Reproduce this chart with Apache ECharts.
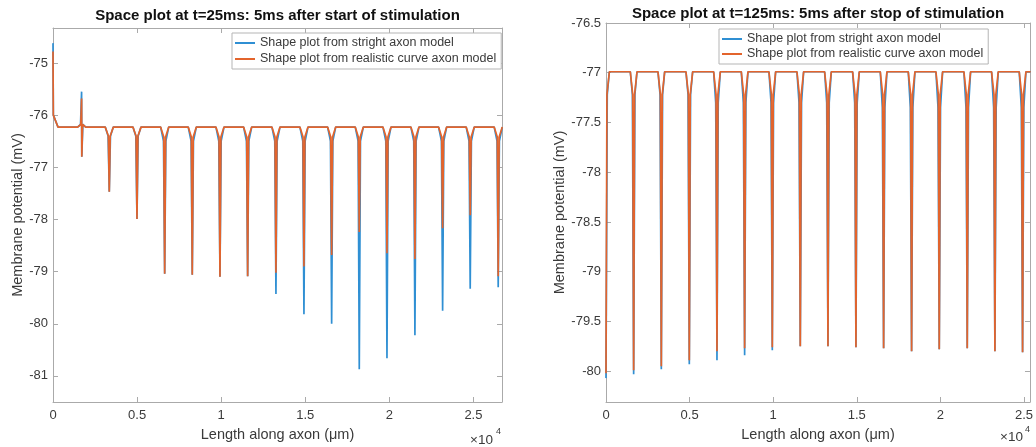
<!DOCTYPE html>
<html>
<head>
<meta charset="utf-8">
<script src="https://cdn.jsdelivr.net/npm/echarts@6/dist/echarts.min.js"></script>
<style>
  html, body { margin: 0; padding: 0; background: #fff; }
  #chart { width: 1036px; height: 447px; }
</style>
</head>
<body>
<div id="chart"></div>
<script>
// ---------- data ----------
const seriesNames = ['Shape plot from stright axon model', 'Shape plot from realistic curve axon model'];
const titles = ['Space plot at t=25ms: 5ms after start of stimulation', 'Space plot at t=125ms: 5ms after stop of stimulation'];
const xTicks = [0, 5000, 10000, 15000, 20000, 25000];
const leftYTicks = [-81, -80, -79, -78, -77, -76, -75];
const rightYTicks = [-80, -79.5, -79, -78.5, -78, -77.5, -77, -76.5];

// left panel (t = 25 ms)
const leftNodeX = [1706, 3347, 4994, 6641, 8282, 9929, 11575, 13258, 14923, 16570, 18213, 19860, 21522, 23169, 24810, 26475];
const leftMinBlue   = [-76.80, -77.47, -77.99, -79.04, -79.06, -79.10, -79.09, -79.43, -79.82, -80.00, -80.87, -80.66, -80.22, -79.75, -79.33, -79.30];
const leftMinOrange = [-76.80, -77.47, -77.99, -79.04, -79.06, -79.10, -79.09, -79.02, -78.90, -78.68, -78.24, -78.65, -78.76, -78.17, -77.92, -79.09];
const leftShoulderBlue   = [-76.18, -76.40, -76.40, -76.50, -76.50, -76.50, -76.50, -76.50, -76.50, -76.50, -76.50, -76.50, -76.50, -76.50, -76.50, -76.50];
const leftShoulderOrange = [-76.18, -76.40, -76.40, -76.42, -76.42, -76.42, -76.42, -76.42, -76.42, -76.42, -76.42, -76.42, -76.42, -76.42, -76.42, -76.42];
const leftPeakBlue = [-75.55];   // up-spike at first node
const leftPeakOrange = [-75.68];
const leftStart = { blue: [-74.62, -76.00], orange: [-74.78, -76.00] };
const leftBase = -76.23;

// right panel (t = 125 ms)
const rightNodeX = [0, 1654, 3309, 4983, 6638, 8292, 9947, 11621, 13276, 14950, 16605, 18279, 19934, 21608, 23262, 24917];
const rightMinBlue   = [-80.07, -80.03, -79.98, -79.93, -79.89, -79.84, -79.79, -79.75, -79.75, -79.76, -79.77, -79.80, -79.78, -79.77, -79.80, -79.81];
const rightMinOrange = [-80.02, -79.99, -79.95, -79.89, -79.80, -79.77, -79.76, -79.75, -79.75, -79.76, -79.77, -79.80, -79.78, -79.77, -79.80, -79.81];
const rightShoulderBlue   = [-77.22, -77.22, -77.22, -77.22, -77.30, -77.30, -77.30, -77.30, -77.30, -77.30, -77.35, -77.35, -77.35, -77.35, -77.35, -77.35];
const rightShoulderOrange = [-77.22, -77.22, -77.22, -77.22, -77.22, -77.22, -77.22, -77.22, -77.22, -77.22, -77.22, -77.22, -77.22, -77.22, -77.22, -77.22];
const rightBase = -76.99;
const rightEndX = 25400;

// node profile (µm from node centre): [edge of plateau, shoulder]
const leftProfile = { blue: [240, 70], orange: [240, 55] };
const rightProfile = { blue: [200, 75], orange: [200, 55] };

// ---------- build polylines ----------
function buildLeft(which) {
  const mins = which === 'blue' ? leftMinBlue : leftMinOrange;
  const sh = which === 'blue' ? leftShoulderBlue : leftShoulderOrange;
  const peak = which === 'blue' ? leftPeakBlue : leftPeakOrange;
  const [edge, so] = leftProfile[which];
  const st = leftStart[which];
  const pts = [[0, st[0]], [20, st[1]], [300, leftBase]];
  leftNodeX.forEach((n, i) => {
    pts.push([n - edge, leftBase], [n - so, sh[i]]);
    if (i < peak.length) {
      pts.push([n - 6, peak[i]], [n + 6, mins[i]]);
    } else {
      pts.push([n, mins[i]]);
    }
    pts.push([n + so, sh[i]], [n + edge, leftBase]);
  });
  return pts;
}
function buildRight(which) {
  const mins = which === 'blue' ? rightMinBlue : rightMinOrange;
  const sh = which === 'blue' ? rightShoulderBlue : rightShoulderOrange;
  const [edge, so] = rightProfile[which];
  const pts = [];
  rightNodeX.forEach((n, i) => {
    if (i > 0) pts.push([n - edge, rightBase], [n - so, sh[i]]);
    pts.push([n, mins[i]], [n + so, sh[i]], [n + edge, rightBase]);
  });
  pts.push([rightEndX, rightBase]);
  return pts;
}

// ---------- chart ----------
const FONT = 'Liberation Sans';
const TXT = '#3a3a3a';
const AX = '#aaaaaa';
const BLUE = '#2f8fd3';
const ORANGE = '#e3642c';

function xAxes(gridIndex, max) {
  const common = {
    type: 'value', gridIndex, min: 0, max,
    splitLine: { show: false },
    axisLine: { show: true, onZero: false, lineStyle: { color: AX, width: 1 } },
    axisTick: { show: true, inside: true, length: 5, customValues: xTicks, lineStyle: { color: AX } }
  };
  return [
    Object.assign({}, common, {
      position: 'bottom',
      name: 'Length along axon (μm)', nameLocation: 'middle', nameGap: 25,
      nameTextStyle: { fontFamily: FONT, fontSize: 14.5, color: TXT },
      axisLabel: { show: true, customValues: xTicks, margin: 7, fontFamily: FONT, fontSize: 13, color: TXT,
        formatter: v => String(+(v / 10000).toFixed(2)) }
    }),
    Object.assign({}, common, { position: 'top', axisLabel: { show: false } })
  ];
}
function yAxes(gridIndex, min, max, ticks, nameGap) {
  const common = {
    type: 'value', gridIndex, min, max,
    splitLine: { show: false },
    axisLine: { show: true, onZero: false, lineStyle: { color: AX, width: 1 } },
    axisTick: { show: true, inside: true, length: 5, customValues: ticks, lineStyle: { color: AX } }
  };
  return [
    Object.assign({}, common, {
      position: 'left',
      name: 'Membrane potential (mV)', nameLocation: 'middle', nameGap,
      nameTextStyle: { fontFamily: FONT, fontSize: 14.5, color: TXT },
      axisLabel: { show: true, customValues: ticks, margin: 5, fontFamily: FONT, fontSize: 13, color: TXT }
    }),
    Object.assign({}, common, { position: 'right', axisLabel: { show: false } })
  ];
}

function line(name, data, xi, yi, color) {
  return {
    name, type: 'line', data, xAxisIndex: xi, yAxisIndex: yi,
    showSymbol: false, symbol: 'none', clip: true,
    lineStyle: { color, width: 1.7 }, itemStyle: { color },
    animation: false
  };
}

function legend(left, top, gap) {
  return {
    data: seriesNames, orient: 'vertical', left, top,
    icon: 'rect', itemWidth: 20, itemHeight: 2, itemGap: gap, itemTextGap: 3,
    padding: [3, 5, 3, 3],
    backgroundColor: '#fff', borderColor: '#b5b5b5', borderWidth: 1,
    textStyle: { fontFamily: FONT, fontSize: 12.5, color: TXT, lineHeight: 14 },
    selectedMode: false
  };
}

const chart = echarts.init(document.getElementById('chart'), null, { renderer: 'canvas' });
chart.setOption({
  animation: false,
  backgroundColor: '#fff',
  grid: [
    { left: 53, top: 28, width: 449, height: 375 },
    { left: 606, top: 23, width: 424, height: 380 }
  ],
  xAxis: [...xAxes(0, 26700), ...xAxes(1, 25360)],
  yAxis: [...yAxes(0, -81.5, -74.33, leftYTicks, 28), ...yAxes(1, -80.31, -76.5, rightYTicks, 39)],
  legend: [legend(232, 33, 2), legend(719, 29, 1)],
  series: [
    line(seriesNames[0], buildLeft('blue'), 0, 0, BLUE),
    line(seriesNames[1], buildLeft('orange'), 0, 0, ORANGE),
    line(seriesNames[0], buildRight('blue'), 2, 2, BLUE),
    line(seriesNames[1], buildRight('orange'), 2, 2, ORANGE)
  ],
  graphic: [
    { type: 'text', x: 277.5, y: 16, style: { text: titles[0], fontFamily: FONT, fontSize: 15, fontWeight: 'bold', fill: '#111', align: 'center', verticalAlign: 'middle' } },
    { type: 'text', x: 818, y: 14, style: { text: titles[1], fontFamily: FONT, fontSize: 15, fontWeight: 'bold', fill: '#111', align: 'center', verticalAlign: 'middle' } },
    { type: 'text', x: 470, y: 440, style: { text: '×10', fontFamily: FONT, fontSize: 13.5, fill: TXT, align: 'left', verticalAlign: 'middle' } },
    { type: 'text', x: 496, y: 432, style: { text: '4', fontFamily: FONT, fontSize: 9, fill: TXT, align: 'left', verticalAlign: 'middle' } },
    { type: 'text', x: 1000, y: 437, style: { text: '×10', fontFamily: FONT, fontSize: 13.5, fill: TXT, align: 'left', verticalAlign: 'middle' } },
    { type: 'text', x: 1025, y: 430, style: { text: '4', fontFamily: FONT, fontSize: 9, fill: TXT, align: 'left', verticalAlign: 'middle' } }
  ]
});
</script>
</body>
</html>
